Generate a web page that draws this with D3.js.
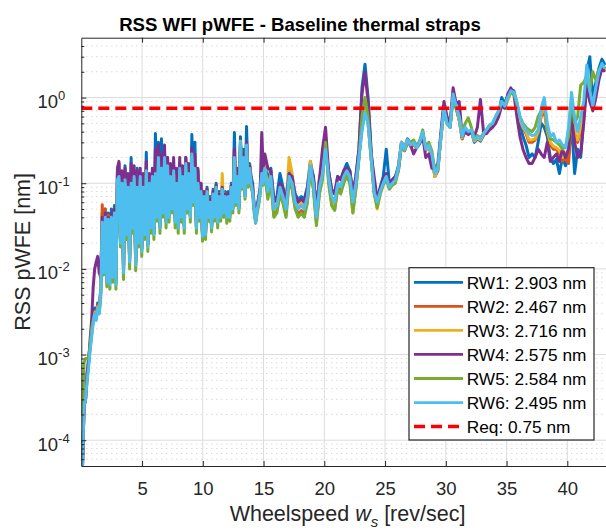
<!DOCTYPE html>
<html>
<head>
<meta charset="utf-8">
<script src="https://cdn.jsdelivr.net/npm/d3@7"></script>
<style>
  body { margin: 0; background: #fff; }
  svg { display: block; font-family: "Liberation Sans", Arial, Helvetica, sans-serif; }
</style>
</head>
<body>
<div id="chart"></div>
<script>
// wheelspeed samples [rev/sec]: 0.1 .. 14.975 every 0.125, then 15.1 .. 43.1 every 0.25
const speeds = d3.range(120).map(j => 0.1 + 0.125 * j)
  .concat(d3.range(113).map(j => 15.1 + 0.25 * j));

// RSS pWFE [nm] per reaction wheel (8 samples per rev/sec up to 15, then 4)
const rw1 = [
  0.00005, 0.00025, 0.0003, 0.0006, 0.0009, 0.0013, 0.002, 0.0028,
  0.0035, 0.003, 0.004, 0.0035, 0.006, 0.045, 0.01, 0.05,
  0.008, 0.045, 0.007, 0.05, 0.009, 0.055, 0.007, 0.14,
  0.17, 0.022, 0.12, 0.01, 0.16, 0.028, 0.11, 0.013,
  0.2, 0.033, 0.14, 0.012, 0.15, 0.022, 0.13, 0.018,
  0.12, 0.028, 0.23, 0.02, 0.12, 0.033, 0.14, 0.028,
  0.38, 0.045, 0.3, 0.033, 0.33, 0.05, 0.24, 0.04,
  0.2, 0.045, 0.14, 0.055, 0.16, 0.04, 0.12, 0.035,
  0.17, 0.045, 0.14, 0.033, 0.2, 0.055, 0.15, 0.045,
  0.37, 0.065, 0.3, 0.035, 0.14, 0.045, 0.1, 0.026,
  0.08, 0.028, 0.09, 0.045, 0.07, 0.033, 0.085, 0.045,
  0.1, 0.04, 0.08, 0.045, 0.09, 0.05, 0.08, 0.045,
  0.08, 0.045, 0.1, 0.055, 0.39, 0.065, 0.14, 0.055,
  0.35, 0.1, 0.25, 0.075, 0.46, 0.11, 0.17, 0.12,
  0.1, 0.055, 0.04, 0.055, 0.07, 0.09, 0.15, 0.11,
  0.19, 0.1, 0.15, 0.065,
  0.07, 0.13, 0.09, 0.065,
  0.14, 0.12, 0.075, 0.065,
  0.07, 0.065, 0.09, 0.18,
  0.12, 0.05, 0.11, 0.16,
  0.28, 0.14, 0.085, 0.075,
  0.12, 0.11, 0.14, 0.17,
  0.14, 0.075, 0.12, 0.25,
  1.3, 2.45, 1.0, 0.25,
  0.09, 0.065, 0.09, 0.12,
  0.25, 0.1, 0.11, 0.12,
  0.16, 0.3, 0.26, 0.33,
  0.29, 0.31, 0.27, 0.31,
  0.38, 0.25, 0.27, 0.2,
  0.12, 0.14, 0.36, 0.8,
  0.55, 0.45, 1.05, 0.75,
  0.55, 0.33, 0.42, 0.38,
  0.4, 0.3, 0.33, 0.31,
  0.36, 0.4, 0.45, 0.48,
  0.55, 0.65, 1.0, 0.85,
  1.05, 1.25, 1.2, 0.85,
  0.5, 0.35, 0.28, 0.2,
  0.22, 0.2, 0.3, 0.5,
  0.45, 0.35, 0.2, 0.17,
  0.19, 0.13, 0.2, 0.16,
  0.2, 0.5, 0.13, 0.25,
  0.2, 0.6, 2.0, 3.0,
  1.0, 1.5, 2.2, 2.8,
  2.4
];
const rw2 = [
  0.00005, 0.00025, 0.0003, 0.0005, 0.0008, 0.0012, 0.0018, 0.0025,
  0.0032, 0.0028, 0.0038, 0.0033, 0.0055, 0.056, 0.01, 0.05,
  0.0075, 0.042, 0.007, 0.045, 0.0085, 0.05, 0.007, 0.12,
  0.13, 0.021, 0.11, 0.0095, 0.12, 0.026, 0.1, 0.012,
  0.11, 0.031, 0.13, 0.011, 0.1, 0.021, 0.13, 0.017,
  0.1, 0.026, 0.15, 0.019, 0.11, 0.031, 0.13, 0.026,
  0.14, 0.042, 0.21, 0.031, 0.16, 0.047, 0.21, 0.036,
  0.17, 0.042, 0.13, 0.052, 0.15, 0.037, 0.11, 0.031,
  0.16, 0.042, 0.13, 0.031, 0.18, 0.052, 0.14, 0.041,
  0.23, 0.062, 0.16, 0.031, 0.11, 0.042, 0.085, 0.025,
  0.075, 0.026, 0.085, 0.042, 0.065, 0.031, 0.078, 0.042,
  0.095, 0.036, 0.075, 0.042, 0.088, 0.047, 0.075, 0.041,
  0.072, 0.042, 0.095, 0.051, 0.21, 0.062, 0.13, 0.051,
  0.31, 0.095, 0.21, 0.072, 0.29, 0.1, 0.16, 0.1,
  0.085, 0.052, 0.036, 0.051, 0.062, 0.082, 0.13, 0.1,
  0.14, 0.072, 0.11, 0.042,
  0.048, 0.082, 0.062, 0.043,
  0.125, 0.09, 0.053, 0.043,
  0.048, 0.044, 0.062, 0.15,
  0.09, 0.035, 0.08, 0.12,
  0.3, 0.11, 0.06, 0.05,
  0.09, 0.08, 0.11, 0.13,
  0.11, 0.05, 0.09, 0.2,
  0.45, 0.7, 0.5, 0.2,
  0.08, 0.055, 0.08, 0.1,
  0.12, 0.09, 0.1, 0.11,
  0.15, 0.3, 0.25, 0.32,
  0.27, 0.28, 0.26, 0.3,
  0.38, 0.24, 0.27, 0.22,
  0.12, 0.15, 0.35, 0.75,
  0.5, 0.45, 1.1, 0.8,
  0.55, 0.33, 0.42, 0.38,
  0.41, 0.31, 0.34, 0.32,
  0.37, 0.41, 0.46, 0.48,
  0.58, 0.68, 0.85, 0.75,
  0.95, 1.15, 1.1, 0.85,
  0.55, 0.45, 0.38, 0.3,
  0.3, 0.32, 0.38, 0.6,
  0.7, 0.4, 0.28, 0.25,
  0.25, 0.22, 0.18, 0.2,
  0.17, 0.6, 0.35, 0.3,
  0.4, 0.55, 1.8, 1.1,
  0.75, 1.2, 1.9, 2.3,
  2.1
];
const rw3 = [
  0.00005, 0.00025, 0.0003, 0.0005, 0.0008, 0.0012, 0.0017, 0.0024,
  0.0031, 0.0027, 0.0036, 0.0032, 0.0052, 0.038, 0.0095, 0.042,
  0.0072, 0.04, 0.0068, 0.043, 0.0082, 0.047, 0.0068, 0.12,
  0.13, 0.021, 0.11, 0.0095, 0.12, 0.026, 0.1, 0.012,
  0.11, 0.031, 0.13, 0.011, 0.1, 0.021, 0.13, 0.017,
  0.1, 0.026, 0.15, 0.019, 0.11, 0.031, 0.13, 0.026,
  0.14, 0.042, 0.21, 0.031, 0.16, 0.047, 0.21, 0.036,
  0.17, 0.042, 0.13, 0.052, 0.15, 0.037, 0.11, 0.031,
  0.16, 0.042, 0.13, 0.031, 0.18, 0.052, 0.14, 0.041,
  0.23, 0.062, 0.16, 0.031, 0.11, 0.042, 0.085, 0.025,
  0.075, 0.026, 0.085, 0.042, 0.065, 0.031, 0.078, 0.042,
  0.095, 0.036, 0.075, 0.042, 0.13, 0.047, 0.075, 0.041,
  0.072, 0.042, 0.095, 0.051, 0.21, 0.062, 0.13, 0.051,
  0.31, 0.095, 0.21, 0.072, 0.29, 0.1, 0.16, 0.1,
  0.085, 0.052, 0.036, 0.051, 0.062, 0.082, 0.13, 0.1,
  0.16, 0.085, 0.13, 0.048,
  0.058, 0.095, 0.075, 0.052,
  0.2, 0.13, 0.065, 0.052,
  0.058, 0.052, 0.075, 0.18,
  0.1, 0.042, 0.12, 0.15,
  0.35, 0.12, 0.065, 0.055,
  0.1, 0.095, 0.125, 0.145,
  0.11, 0.045, 0.09, 0.2,
  0.45, 0.8, 0.5, 0.2,
  0.08, 0.05, 0.075, 0.1,
  0.12, 0.09, 0.1, 0.11,
  0.15, 0.3, 0.25, 0.32,
  0.28, 0.29, 0.26, 0.3,
  0.39, 0.24, 0.27, 0.21,
  0.12, 0.15, 0.35, 0.75,
  0.5, 0.45, 1.1, 0.8,
  0.55, 0.34, 0.43, 0.38,
  0.41, 0.31, 0.34, 0.32,
  0.37, 0.41, 0.46, 0.48,
  0.58, 0.68, 0.85, 0.75,
  0.95, 1.15, 1.1, 0.85,
  0.55, 0.45, 0.4, 0.32,
  0.32, 0.33, 0.4, 0.65,
  0.8, 0.42, 0.3, 0.27,
  0.26, 0.24, 0.2, 0.22,
  0.25, 0.7, 0.4, 0.32,
  0.45, 0.6, 2.0, 1.15,
  0.8, 1.25, 1.9, 2.4,
  2.1
];
const rw4 = [
  0.00005, 0.00025, 0.0003, 0.0006, 0.0008, 0.0015, 0.0025, 0.006,
  0.01, 0.012, 0.014, 0.009, 0.008, 0.04, 0.01, 0.045,
  0.007, 0.04, 0.0075, 0.045, 0.009, 0.05, 0.0075, 0.15,
  0.18, 0.022, 0.14, 0.01, 0.15, 0.028, 0.13, 0.013,
  0.17, 0.033, 0.16, 0.012, 0.14, 0.022, 0.15, 0.017,
  0.13, 0.028, 0.18, 0.019, 0.13, 0.033, 0.15, 0.026,
  0.25, 0.045, 0.28, 0.031, 0.22, 0.05, 0.28, 0.037,
  0.2, 0.045, 0.17, 0.055, 0.2, 0.04, 0.15, 0.032,
  0.2, 0.045, 0.16, 0.032, 0.2, 0.055, 0.17, 0.042,
  0.26, 0.065, 0.22, 0.031, 0.15, 0.045, 0.1, 0.025,
  0.08, 0.026, 0.085, 0.043, 0.065, 0.032, 0.08, 0.043,
  0.095, 0.037, 0.075, 0.043, 0.09, 0.048, 0.075, 0.042,
  0.075, 0.043, 0.095, 0.052, 0.25, 0.062, 0.15, 0.052,
  0.28, 0.095, 0.22, 0.072, 0.3, 0.11, 0.16, 0.11,
  0.09, 0.052, 0.037, 0.052, 0.065, 0.085, 0.39, 0.15,
  0.22, 0.15, 0.14, 0.06,
  0.065, 0.1, 0.085, 0.06,
  0.13, 0.12, 0.07, 0.06,
  0.065, 0.06, 0.085, 0.15,
  0.12, 0.05, 0.11, 0.25,
  0.45, 0.14, 0.085, 0.075,
  0.12, 0.11, 0.14, 0.15,
  0.14, 0.075, 0.12, 0.25,
  1.1, 2.0, 0.9, 0.22,
  0.12, 0.065, 0.085, 0.11,
  0.13, 0.095, 0.11, 0.12,
  0.14, 0.28, 0.24, 0.3,
  0.28, 0.22, 0.26, 0.29,
  0.35, 0.2, 0.22, 0.15,
  0.15, 0.17, 0.4, 0.9,
  0.6, 0.5, 1.3, 0.85,
  0.9, 0.35, 0.4, 0.37,
  0.4, 0.35, 0.45, 0.95,
  0.4, 0.38, 0.42, 0.45,
  0.5, 0.6, 0.8, 0.75,
  1.1, 1.3, 1.1, 0.6,
  0.35, 0.25, 0.2, 0.17,
  0.17, 0.2, 0.25, 0.22,
  0.2, 0.3, 0.18, 0.2,
  0.22, 0.18, 0.25, 0.2,
  0.25, 0.6, 0.3, 0.2,
  0.22, 0.5, 1.4, 0.9,
  0.7, 1.0, 1.6, 2.2,
  2.0
];
const rw5 = [
  0.0002, 0.0008, 0.0009, 0.0009, 0.0009, 0.0013, 0.002, 0.0025,
  0.003, 0.0026, 0.0033, 0.003, 0.0045, 0.03, 0.0085, 0.034,
  0.0062, 0.033, 0.0058, 0.037, 0.007, 0.04, 0.0058, 0.1,
  0.11, 0.018, 0.09, 0.0075, 0.1, 0.022, 0.085, 0.01,
  0.09, 0.026, 0.11, 0.0095, 0.085, 0.018, 0.11, 0.014,
  0.085, 0.022, 0.13, 0.016, 0.095, 0.026, 0.11, 0.022,
  0.12, 0.036, 0.19, 0.026, 0.14, 0.04, 0.19, 0.03,
  0.15, 0.035, 0.11, 0.045, 0.13, 0.03, 0.095, 0.026,
  0.14, 0.035, 0.11, 0.026, 0.16, 0.045, 0.12, 0.035,
  0.2, 0.055, 0.14, 0.026, 0.095, 0.036, 0.075, 0.021,
  0.065, 0.022, 0.075, 0.036, 0.055, 0.027, 0.07, 0.036,
  0.085, 0.03, 0.065, 0.036, 0.08, 0.04, 0.065, 0.034,
  0.065, 0.036, 0.085, 0.045, 0.18, 0.055, 0.11, 0.045,
  0.28, 0.085, 0.19, 0.065, 0.26, 0.09, 0.14, 0.09,
  0.075, 0.045, 0.034, 0.045, 0.055, 0.075, 0.12, 0.095,
  0.13, 0.065, 0.1, 0.04,
  0.045, 0.075, 0.058, 0.04,
  0.1, 0.085, 0.05, 0.04,
  0.045, 0.04, 0.058, 0.14,
  0.085, 0.032, 0.075, 0.11,
  0.3, 0.1, 0.055, 0.048,
  0.085, 0.075, 0.1, 0.12,
  0.1, 0.045, 0.085, 0.19,
  0.6, 1.0, 0.6, 0.2,
  0.075, 0.052, 0.075, 0.095,
  0.11, 0.085, 0.095, 0.1,
  0.14, 0.28, 0.24, 0.3,
  0.3, 0.32, 0.27, 0.31,
  0.42, 0.26, 0.3, 0.24,
  0.14, 0.16, 0.34, 0.7,
  0.5, 0.45, 1.0, 0.75,
  0.6, 0.4, 0.5, 0.58,
  0.45, 0.33, 0.36, 0.34,
  0.38, 0.42, 0.47, 0.5,
  0.6, 0.7, 0.9, 0.8,
  1.0, 1.15, 1.1, 0.85,
  0.6, 0.5, 0.45, 0.42,
  0.4, 0.45, 0.6, 0.7,
  0.9, 0.45, 0.33, 0.32,
  0.3, 0.28, 0.25, 0.27,
  0.35, 0.9, 0.5, 0.6,
  1.4, 1.5, 1.8, 1.2,
  2.0, 1.6, 2.1, 2.4,
  2.2
];
const rw6 = [
  0.00005, 0.00025, 0.0003, 0.0005, 0.0007, 0.0011, 0.0016, 0.0023,
  0.003, 0.0025, 0.0035, 0.003, 0.005, 0.035, 0.009, 0.04,
  0.007, 0.038, 0.0065, 0.04, 0.008, 0.045, 0.0065, 0.11,
  0.12, 0.02, 0.1, 0.009, 0.11, 0.025, 0.09, 0.012,
  0.1, 0.03, 0.12, 0.011, 0.09, 0.02, 0.12, 0.016,
  0.09, 0.025, 0.14, 0.018, 0.1, 0.03, 0.12, 0.025,
  0.13, 0.04, 0.2, 0.03, 0.15, 0.045, 0.2, 0.035,
  0.16, 0.04, 0.12, 0.05, 0.14, 0.035, 0.1, 0.03,
  0.15, 0.04, 0.12, 0.03, 0.17, 0.05, 0.13, 0.04,
  0.22, 0.06, 0.15, 0.03, 0.1, 0.04, 0.08, 0.024,
  0.07, 0.025, 0.08, 0.04, 0.06, 0.03, 0.075, 0.04,
  0.09, 0.035, 0.07, 0.04, 0.085, 0.045, 0.07, 0.04,
  0.07, 0.04, 0.09, 0.05, 0.2, 0.06, 0.12, 0.05,
  0.3, 0.09, 0.2, 0.07, 0.28, 0.1, 0.15, 0.1,
  0.08, 0.05, 0.035, 0.05, 0.06, 0.08, 0.13, 0.1,
  0.15, 0.08, 0.12, 0.05,
  0.055, 0.09, 0.07, 0.05,
  0.12, 0.1, 0.06, 0.05,
  0.055, 0.05, 0.07, 0.16,
  0.1, 0.04, 0.09, 0.13,
  0.25, 0.12, 0.07, 0.06,
  0.1, 0.09, 0.12, 0.14,
  0.12, 0.06, 0.1, 0.2,
  0.4, 0.67, 0.5, 0.2,
  0.08, 0.06, 0.08, 0.1,
  0.12, 0.09, 0.1, 0.11,
  0.15, 0.3, 0.25, 0.32,
  0.28, 0.3, 0.26, 0.3,
  0.4, 0.25, 0.28, 0.22,
  0.13, 0.15, 0.35, 0.75,
  0.5, 0.45, 1.1, 0.8,
  0.6, 0.35, 0.45, 0.4,
  0.42, 0.32, 0.35, 0.33,
  0.38, 0.42, 0.48, 0.5,
  0.6, 0.7, 0.9, 0.8,
  1.0, 1.2, 1.15, 0.9,
  0.6, 0.48, 0.42, 0.38,
  0.36, 0.37, 0.42, 0.75,
  1.0, 0.5, 0.35, 0.38,
  0.3, 0.32, 0.28, 0.26,
  0.45, 1.15, 0.6, 0.4,
  0.6, 0.9, 2.4, 1.2,
  0.8, 1.3, 2.0, 2.5,
  2.2
];

const seriesNames = ["RW1: 2.903 nm", "RW2: 2.467 nm", "RW3: 2.716 nm", "RW4: 2.575 nm", "RW5: 2.584 nm", "RW6: 2.495 nm"];
const seriesColors = ["#0072BD", "#D95319", "#EDB120", "#7E2F8E", "#77AC30", "#4DBEEE"];
const requirement = 0.75;
const requirementLabel = "Req: 0.75 nm";

const xTicks = [5, 10, 15, 20, 25, 30, 35, 40];
const yTicks = [1e-4, 1e-3, 1e-2, 1e-1, 1e0];
const yTickExponents = ["-4", "-3", "-2", "-1", "0"];

const width = 606;
const height = 532;
const margin = { top: 37.7, right: -0.2, bottom: 66, left: 81.3 };
const font = "'Liberation Sans', Arial, Helvetica, sans-serif";
const axisColor = "#262626";

const x = d3.scaleLinear().domain([0, 43.2]).range([margin.left, width - margin.right]);
const y = d3.scaleLog().domain([5e-5, 5]).range([height - margin.bottom, margin.top]);

const series = [rw1, rw2, rw3, rw4, rw5, rw6].map((vals, i) => ({
  name: seriesNames[i],
  color: seriesColors[i],
  values: vals.map((v, j) => ({ speed: speeds[j], value: v }))
}));

const svg = d3.select("#chart").append("svg")
  .attr("width", width)
  .attr("height", height)
  .attr("viewBox", `0 0 ${width} ${height}`);

const plotBottom = height - margin.bottom;
const plotRight = width - margin.right;

// minor y grid (dotted)
const minorY = [];
for (let e = -5; e <= 0; e++) {
  for (let m = 2; m <= 9; m++) {
    const v = m * Math.pow(10, e);
    if (v > 5e-5 && v < 5) minorY.push(v);
  }
}
svg.append("g")
  .selectAll("line")
  .data(minorY)
  .join("line")
  .attr("x1", margin.left).attr("x2", plotRight)
  .attr("y1", d => y(d)).attr("y2", d => y(d))
  .attr("stroke", "#c8c8c8")
  .attr("stroke-width", 1)
  .attr("stroke-dasharray", "1,4");

// major grid
svg.append("g")
  .selectAll("line")
  .data(yTicks)
  .join("line")
  .attr("x1", margin.left).attr("x2", plotRight)
  .attr("y1", d => y(d)).attr("y2", d => y(d))
  .attr("stroke", "#dcdcdc")
  .attr("stroke-width", 1);

svg.append("g")
  .selectAll("line")
  .data(xTicks)
  .join("line")
  .attr("x1", d => x(d)).attr("x2", d => x(d))
  .attr("y1", margin.top).attr("y2", plotBottom)
  .attr("stroke", "#dcdcdc")
  .attr("stroke-width", 1);

// data lines
svg.append("clipPath").attr("id", "plot-clip")
  .append("rect")
  .attr("x", margin.left).attr("y", margin.top)
  .attr("width", plotRight - margin.left)
  .attr("height", plotBottom - margin.top);

const line = d3.line()
  .x(d => x(d.speed))
  .y(d => y(d.value));

const lines = svg.append("g").attr("clip-path", "url(#plot-clip)");
lines.selectAll("path")
  .data(series)
  .join("path")
  .attr("fill", "none")
  .attr("stroke", d => d.color)
  .attr("stroke-width", 3)
  .attr("stroke-linejoin", "round")
  .attr("d", d => line(d.values));

lines.append("line")
  .attr("x1", margin.left).attr("x2", plotRight)
  .attr("y1", y(requirement)).attr("y2", y(requirement))
  .attr("stroke", "#FF0000")
  .attr("stroke-width", 3.5)
  .attr("stroke-dasharray", "11,6");

// axes
const xAxis = svg.append("g")
  .attr("transform", `translate(0,${plotBottom})`)
  .call(d3.axisBottom(x).tickValues(xTicks).tickSizeInner(-5).tickSizeOuter(0).tickPadding(16).tickFormat(d3.format("d")));
xAxis.select(".domain").attr("stroke", axisColor);
xAxis.selectAll(".tick line").attr("stroke", axisColor);
xAxis.selectAll(".tick text")
  .attr("fill", axisColor)
  .attr("font-family", font)
  .attr("font-size", 18.5);

const xTop = svg.append("g")
  .attr("transform", `translate(0,${margin.top})`)
  .call(d3.axisTop(x).tickValues(xTicks).tickSizeInner(-5).tickSizeOuter(0).tickFormat(""));
xTop.select(".domain").attr("stroke", axisColor);
xTop.selectAll(".tick line").attr("stroke", axisColor);

const yAxis = svg.append("g")
  .attr("transform", `translate(${margin.left},0)`)
  .call(d3.axisLeft(y).tickValues(yTicks).tickSizeInner(-5).tickSizeOuter(0).tickFormat(""));
yAxis.select(".domain").attr("stroke", axisColor);
yAxis.selectAll(".tick line").attr("stroke", axisColor);

const yMinor = svg.append("g")
  .attr("transform", `translate(${margin.left},0)`)
  .call(d3.axisLeft(y).tickValues(minorY).tickSizeInner(-3).tickSizeOuter(0).tickFormat(""));
yMinor.select(".domain").remove();
yMinor.selectAll(".tick line").attr("stroke", axisColor);

// y tick labels with exponents
const yLabels = svg.append("g")
  .selectAll("text")
  .data(yTicks)
  .join("text")
  .attr("x", 37.5)
  .attr("y", d => y(d) + 10.5)
  .attr("fill", axisColor)
  .attr("font-family", font)
  .attr("font-size", 18.5);
yLabels.append("tspan").text("10");
yLabels.append("tspan")
  .attr("font-size", 13)
  .attr("dy", -8)
  .text((d, i) => yTickExponents[i]);

// title and axis labels
svg.append("text")
  .attr("x", 300)
  .attr("y", 30.5)
  .attr("text-anchor", "middle")
  .attr("font-family", font)
  .attr("font-weight", "bold")
  .attr("font-size", 18.6)
  .attr("fill", "#000")
  .text("RSS WFI pWFE - Baseline thermal straps");

const xLabel = svg.append("text")
  .attr("x", 347.5)
  .attr("y", 521)
  .attr("text-anchor", "middle")
  .attr("font-family", font)
  .attr("font-size", 21.5)
  .attr("fill", axisColor);
xLabel.append("tspan").text("Wheelspeed ");
xLabel.append("tspan").attr("font-style", "italic").text("w");
xLabel.append("tspan").attr("font-size", 15).attr("font-style", "italic").attr("dy", 6).text("s");
xLabel.append("tspan").attr("dy", -6).text(" [rev/sec]");

svg.append("text")
  .attr("transform", `translate(29.5,${(margin.top + plotBottom) / 2}) rotate(-90)`)
  .attr("text-anchor", "middle")
  .attr("font-family", font)
  .attr("font-size", 21.5)
  .attr("fill", axisColor)
  .text("RSS pWFE [nm]");

// legend
const legendItems = series.map(d => ({ name: d.name, color: d.color, dashed: false }))
  .concat([{ name: requirementLabel, color: "#FF0000", dashed: true }]);

const legend = svg.append("g");
legend.append("rect")
  .attr("x", 409).attr("y", 267.7)
  .attr("width", 185).attr("height", 172.3)
  .attr("fill", "#fff")
  .attr("stroke", axisColor)
  .attr("stroke-width", 1.2);

const legendRow = legend.selectAll("g.item")
  .data(legendItems)
  .join("g")
  .attr("class", "item")
  .attr("transform", (d, i) => `translate(0,${282.3 + i * 24.05})`);
legendRow.append("line")
  .attr("x1", 414).attr("x2", 463)
  .attr("stroke", d => d.color)
  .attr("stroke-width", d => d.dashed ? 3.5 : 2.8)
  .attr("stroke-dasharray", d => d.dashed ? "11,6" : null);
legendRow.append("text")
  .attr("x", 466.7)
  .attr("dy", "0.36em")
  .attr("font-family", font)
  .attr("font-size", 17.3)
  .attr("fill", "#000")
  .text(d => d.name);
</script>
</body>
</html>
